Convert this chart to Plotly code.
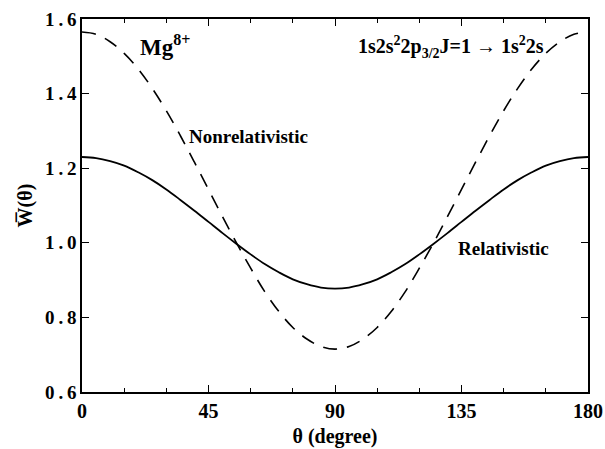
import plotly.graph_objects as go

theta = [0, 5, 10, 15, 20, 25, 30, 35, 40, 45, 50, 55, 60, 65, 70, 75, 80, 85, 90,
         95, 100, 105, 110, 115, 120, 125, 130, 135, 140, 145, 150, 155, 160, 165, 170, 175, 180]

relativistic = [1.230, 1.227, 1.219, 1.207, 1.189, 1.168, 1.143, 1.115, 1.086, 1.056, 1.026,
                0.997, 0.969, 0.943, 0.921, 0.902, 0.889, 0.880, 0.877,
                0.880, 0.889, 0.902, 0.921, 0.943, 0.969, 0.997, 1.026, 1.056, 1.086,
                1.115, 1.143, 1.168, 1.189, 1.207, 1.219, 1.227, 1.230]

nonrelativistic = [1.565, 1.559, 1.539, 1.508, 1.466, 1.414, 1.354, 1.287, 1.216, 1.143, 1.070,
                   0.999, 0.932, 0.869, 0.816, 0.773, 0.742, 0.722, 0.715,
                   0.722, 0.742, 0.773, 0.816, 0.869, 0.932, 0.999, 1.070, 1.143, 1.216,
                   1.287, 1.354, 1.414, 1.466, 1.508, 1.539, 1.559, 1.565]

x_ticks = [0, 45, 90, 135, 180]
x_tick_labels = ["0", "45", "90", "135", "180"]
y_ticks = [0.6, 0.8, 1.0, 1.2, 1.4, 1.6]
y_tick_labels = ["0\u2009.\u20096", "0\u2009.\u20098", "1\u2009.\u20090", "1\u2009.\u20092", "1\u2009.\u20094", "1\u2009.\u20096"]

FONT = "Liberation Serif"

fig = go.Figure()
fig.add_trace(go.Scatter(x=theta, y=nonrelativistic, mode="lines", line_shape="spline",
                         line=dict(color="black", width=1.6, dash="14px,10px"), showlegend=False))
fig.add_trace(go.Scatter(x=theta, y=relativistic, mode="lines", line_shape="spline",
                         line=dict(color="black", width=1.8), showlegend=False))

fig.update_layout(
    width=605, height=449,
    margin=dict(l=82, r=17, t=19, b=57),
    plot_bgcolor="white", paper_bgcolor="white",
    font=dict(family=FONT, color="black"),
    showlegend=False,
)

fig.update_xaxes(
    range=[0, 180], tickvals=x_ticks, ticktext=[f"<b>{t}</b>" for t in x_tick_labels],
    automargin=False,
    ticks="inside", ticklen=7, tickwidth=1.3, tickcolor="black",
    minor=dict(dtick=15, tick0=0, ticks="inside", ticklen=4, tickwidth=1.2, tickcolor="black"),
    showline=True, linecolor="black", linewidth=1.5, mirror="ticks",
    showgrid=False, zeroline=False,
    tickfont=dict(family=FONT, size=20, color="black"),
    title=dict(text="<b>θ (degree)</b>", font=dict(family=FONT, size=20, color="black"), standoff=8),
)
fig.update_yaxes(
    range=[0.6, 1.6], tickvals=y_ticks, ticktext=[f"<b>{t}</b>" for t in y_tick_labels],
    automargin=False,
    ticks="inside", ticklen=7, tickwidth=1.3, tickcolor="black",
    showline=True, linecolor="black", linewidth=1.5, mirror="ticks",
    showgrid=False, zeroline=False,
    tickfont=dict(family=FONT, size=19, color="black"),
    title=dict(text="<b>W\u0305(θ)</b>", font=dict(family=FONT, size=20, color="black"), standoff=7),
)

fig.add_annotation(x=29.5, y=1.53, text="<b>Mg<sup>8+</sup></b>", showarrow=False,
                   font=dict(family=FONT, size=23, color="black"))
fig.add_annotation(x=165, y=1.525, xanchor="right",
                   text="<b>1s2s<sup>2</sup>2p<sub>3/2</sub>J=1 → 1s<sup>2</sup>2s</b>", showarrow=False,
                   font=dict(family=FONT, size=20, color="black"))
fig.add_annotation(x=37.5, y=1.284, xanchor="left", text="<b>Nonrelativistic</b>", showarrow=False,
                   font=dict(family=FONT, size=19, color="black"))
fig.add_annotation(x=133, y=0.986, xanchor="left", text="<b>Relativistic</b>", showarrow=False,
                   font=dict(family=FONT, size=19, color="black"))

fig.write_html("out.html")
